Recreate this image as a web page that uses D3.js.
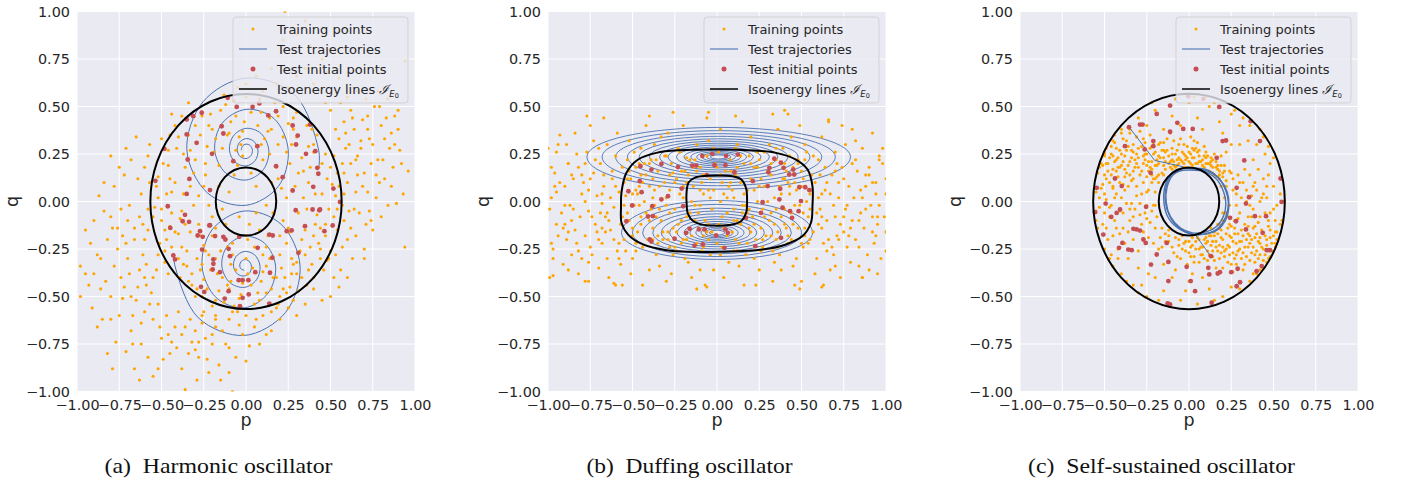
<!DOCTYPE html>
<html><head><meta charset="utf-8">
<script src="https://cdn.jsdelivr.net/npm/d3@7"></script>
<style>body{margin:0;background:#fff}</style>
</head><body><svg id="c" width="1403" height="481"></svg>
<script>
// ---------- tick values / labels / texts ----------
const pTicks = [-1, -0.75, -0.5, -0.25, 0, 0.25, 0.5, 0.75, 1];
const qTicks = [-1, -0.75, -0.5, -0.25, 0, 0.25, 0.5, 0.75, 1];
const tickLabels = ["−1.00","−0.75","−0.50","−0.25","0.00","0.25","0.50","0.75","1.00"];
const captions = ["(a)  Harmonic oscillator","(b)  Duffing oscillator","(c)  Self-sustained oscillator"];
const legendLabels = ["Training points","Test trajectories","Test initial points","Isoenergy lines "];

// ---------- (a) Harmonic: training points (hundredths of p,q) ----------
const trainHarmonic = [
[-45,12],[-38,-5],[-30,22],[-22,40],[-12,51],[3,47],[15,38],[28,44],[40,30],[48,12],[52,-8],[44,-25],[33,-40],[20,-50],[5,-54],[-10,-46],[-25,-41],[-37,-33],[-47,-20],[-52,2],
[-41,28],[-33,8],[-27,-18],[-18,-30],[-8,-22],[2,-12],[10,-28],[24,-22],[31,-6],[37,10],[26,20],[14,25],[-3,30],[-16,19],[-28,3],[-20,-8],[-6,-36],[9,-42],[21,-35],[35,-15],
[-50,-10],[-43,-28],[-32,-44],[-18,-52],[-3,-49],[12,-48],[26,-45],[39,-33],[47,-18],[53,3],[50,18],[42,35],[30,47],[17,52],[0,55],[-15,48],[-30,40],[-40,34],[-49,20],[-54,-3],
[-36,-12],[-24,-26],[-14,-40],[0,-30],[13,-18],[27,-30],[42,-7],[33,23],[22,34],[7,40],[-9,42],[-23,29],[-36,18],[-44,5],[-29,-30],[-12,-12],[16,-6],[29,8],[19,12],[-5,19],
[-48,-32],[-39,-40],[-26,-50],[-7,-55],[8,-52],[30,-38],[44,-30],[51,-13],[55,8],[47,25],[36,40],[22,50],[8,54],[-7,53],[-21,46],[-34,35],[-46,27],[-52,13],[-55,-8],[-51,-22],
[-31,-2],[-40,-17],[-21,-36],[-2,-43],[18,-40],[35,-28],[40,-18],[45,4],[38,18],[30,34],[14,44],[-2,37],[-18,33],[-33,27],[-38,-24],[-15,-26],[5,-24],[22,-10],[12,-34],[-28,-12],
[-44,-6],[-35,-34],[-16,-47],[1,-38],[24,-48],[36,-44],[46,-36],[49,-4],[43,18],[27,30],[11,33],[-11,35],[-26,45],[-42,40],[-48,-15],[-25,-23],[-9,-33],[15,-46],[33,-20],[41,-12],
[-53,8],[-46,-38],[-29,-46],[-13,-53],[19,-54],[31,-47],[50,-26],[54,-15],[52,24],[39,38],[25,41],[4,50],[-13,56],[-38,45],[-45,35],[-52,-28],[-42,10],[-24,14],[20,-28],[-32,-38],
[-20,-18],[-11,-44],[7,-48],[27,-38],[38,-24],[44,-14],[34,2],[40,26],[19,30],[-6,45],[-20,38],[-31,15],[-37,4],[-45,-13],[-27,-36],[-4,-51],[10,-37],[25,-14],[30,-32],[-40,-30],
[-10,5],[6,8],[-4,-8],[12,-2],[-14,-4],[3,15],[8,-15],[-7,14],[15,10],[-16,8],[0,-18],[10,22],[-22,-2],[20,-18],[-2,24],[24,2],[-12,-20],[18,18],[-24,20],[6,-6],
[-47,4],[-42,-16],[-35,-26],[-26,-33],[-17,-38],[-8,-28],[4,-35],[14,-30],[23,-40],[32,-26],[43,-22],[49,-30],[54,-4],[51,9],[45,20],[37,29],[28,38],[19,45],[9,47],[-1,42],[-10,36],[-19,26],[-27,35],[-37,25],[-46,19],[-50,-4],[-44,-24],[-34,-42],[-23,-46],[-9,-42],[3,-44],[16,-40],[28,-33],[37,-36],[47,-12],[41,4],[34,16],[24,26],[13,37],[-4,34],[-14,28],[-25,8],[-33,-16],[-22,-28],[-11,-24],[1,-20],[12,-24],[26,-16],[36,-4],[31,15],[21,7],[9,30],[-6,27],[-18,-14],[-39,-9],[-48,-26],[-30,-50],[-20,-55],[22,-46],[40,-40],
[-60,-40],[-65,-52],[-70,-30],[-72,-45],[-75,-60],[-68,-68],[-62,-75],[-55,-62],[-58,-82],[-50,-72],[-45,-80],[-42,-66],[-38,-88],[-36,-99],[-32,-74],[-28,-82],[-29,-94],[-23,-83],[-20,-70],[-15,-94],[-10,-90],[-10,-77],[-8,-100],[-80,-50],[-82,-80],[-79,-88],[-77,-74],[-85,-62],[-88,-66],[-93,-44],[-98,-34],[-98,-50],[-90,-38],[-86,-30],[-82,-20],[-76,-25],[-66,-20],[-61,-28],[-58,-15],[-63,-8],[-70,-10],[-74,-4],[-80,-8],[-66,-88],[-63,-94],[-55,-92],[-49,-83],[-52,-88],[-41,-77],[-47,-60],[-40,-58],[-33,-62],[-26,-60],[-18,-62],[-60,-58],[-69,-38],[-64,-45],[-56,-48],[-73,-51],[-83,-42],[-71,-79],[-46,-70],[-34,-80],[-24,-72],[-30,-68],[-38,-70],[-52,-54],[-59,-33],[-67,-60],[-78,-34],
[-59,-44],[-63,-36],[-68,-50],[-74,-40],[-57,-54],[-62,-64],[-51,-66],[-44,-74],[-36,-66],[-28,-74],[-71,-22],[-79,-14],[-86,-46],[-91,-56],[-80,-62],[-67,-75],
[-87,3],[-84,10],[-90,-10],[-95,-15],[-78,8],[-72,14],[-68,22],[-65,34],[-60,18],[-57,10],[-62,4],[-69,-2],[-75,18],[-80,24],[-71,28],[-58,24],[-64,12],[-76,-14],[-84,-5],[-92,-22],[-58,-4],[-61,-12],[-88,-28],[-73,-18],[-66,-14],[-57,30],[-53,-36],[-55,-40],[-60,-20],[-95,-38],
[-50,33],[-44,46],[-34,52],
[60,10],[62,20],[65,5],[68,28],[70,15],[72,38],[75,30],[78,22],[80,40],[82,12],[85,28],[88,45],[90,38],[92,20],[96,16],[89,-1],[75,-15],[67,-6],[58,-10],[60,-20],[63,-30],[56,-36],[48,-31],[52,-40],[70,-25],[72,5],[76,50],[79,50],[71,54],[62,48],[58,42],[55,33],[53,38],[64,38],[69,43],[82,33],[86,8],[90,48],[84,54],[78,58],[66,58],[60,55],[56,52],[50,48],[47,52],[59,28],[66,14],[73,-5],[80,-8],[84,-2],[62,-14],[57,-2],[64,-4],[71,-12],[77,2],[58,4],[61,30],[74,20],[81,22],[87,18],[93,4],[60,-40],[55,-45],[50,-50],[45,-52],[53,-28],[68,32],[72,45],[65,22],[79,10],[57,20],[54,15],[88,30],[94,-24],[70,-30],
[58,15],[61,-5],[66,24],[69,8],[73,33],[77,14],[83,44],[86,36],[91,27],[59,36],[63,44],[57,-24],[65,-18],[74,-10],
[10,58],[18,62],[25,60],[30,66],[35,70],[40,62],[45,75],[50,80],[22,85],[30,88],[23,100],[35,95],[44,58],[15,70],[38,82],[-5,60],[0,62],[6,66],[94,74],[55,65],[48,68],
[-25,-58],[-18,-60],[-10,-62],[-5,-58],[0,-60],[5,-66],[10,-60],[15,-58],[20,-62],[25,-56],[30,-60],[-2,-70],[-14,-68],[8,-75],[-6,-82],[2,-76],[-20,-75],[15,-68],[-12,-75],[-4,-65],[28,-52],[35,-54],[40,-46],[-16,-86],[-22,-90],
[-8,-58],[6,-62],[18,-56],[-18,-66],[0,-84],[-26,-64],[12,-70],[-30,-78]
];
const initHarmonic = [
[-0.055,0.498],[0.039,0.498],[0.079,0.516],[0.132,0.453],[0.178,0.475],[0.276,0.40],[0.306,0.347],[0.379,0.405],[0.296,0.30],[0.355,0.251],[0.41,0.265],[0.422,0.177],[0.428,0.146],[0.178,0.186],[0.217,0.128],[0.067,0.291],[-0.075,0.212],[-0.144,0.396],[-0.201,0.251],[-0.292,0.309],[-0.351,0.353],[-0.351,0.432],[-0.312,0.449],[-0.262,0.467],[-0.345,0.221],[-0.483,0.277],[-0.536,0.109],[-0.335,0.119],[-0.351,0.04],[-0.213,0.06],[-0.463,-0.025],[-0.361,-0.07],[-0.375,-0.104],[-0.337,-0.107],[-0.448,-0.139],[-0.43,-0.284],[-0.272,-0.156],[-0.217,-0.126],[-0.286,-0.179],[-0.256,-0.186],[-0.183,-0.182],[-0.134,-0.186],[-0.122,-0.2],[-0.103,-0.249],[-0.095,-0.288],[-0.26,-0.253],[-0.193,-0.305],[-0.197,-0.358],[-0.154,-0.372],[-0.043,-0.414],[-0.02,-0.414],[0.014,-0.414],[0.016,-0.489],[-0.02,-0.507],[-0.103,-0.472],[-0.126,-0.511],[-0.266,-0.449],[0.138,-0.537],[0.055,-0.372],[0.138,-0.174],[0.158,-0.179],[0.241,-0.156],[0.31,-0.27],[0.294,-0.046],[0.276,0.058],[0.398,0.077],[0.394,-0.042],[0.434,-0.046],[0.349,-0.13],[0.464,-0.156],[0.513,-0.126],[0.517,0.068],[0.556,-0.002],
[-0.108,0.546],[-0.134,0.358],[-0.213,-0.125],[-0.247,-0.476],[0.069,-0.244],[0.156,-0.296],[0.142,-0.375],[-0.04,-0.186],[0.27,-0.152],[-0.193,-0.328],[0.438,-0.042],[-0.42,-0.305],[-0.036,-0.551]
];
const isoHarmonicRadii = [0.566, 0.179];
// spirals: centre and (angle in degrees, radius) samples
const harmUpperCenter = [0, 0.27];
const harmUpperSpiral = [[-11,.44],[0,.43],[45,.41],[90,.38],[135,.36],[180,.35],[225,.32],[270,.29],[315,.27],[360,.25],[405,.235],[450,.215],[495,.2],[540,.185],[585,.17],[630,.157],[675,.145],[720,.135],[765,.125],[810,.115],[855,.106],[900,.098],[945,.09],[990,.083],[1035,.077],[1080,.071],[1125,.066],[1170,.061],[1215,.056],[1260,.052],[1305,.048],[1350,.044],[1395,.041],[1440,.038],[1485,.035],[1530,.032],[1575,.03],[1620,.028]];
const harmLowerCenter = [-0.01, -0.34];
const harmLowerSpiral = [[172,.42],[180,.41],[225,.385],[270,.365],[315,.345],[360,.33],[405,.31],[450,.29],[495,.27],[540,.25],[585,.235],[630,.22],[675,.2],[720,.185],[765,.17],[810,.157],[855,.145],[900,.133],[945,.122],[990,.112],[1035,.102],[1080,.093],[1125,.085],[1170,.077],[1215,.07],[1260,.064],[1305,.058],[1350,.052],[1395,.047],[1440,.042],[1485,.038],[1530,.034],[1575,.03],[1620,.027],[1665,.024],[1710,.021]];

// ---------- (b) Duffing ----------
const trainDuffing = [
[-99,-40],[-97,-25],[-95,-12],[-98,2],[-96,15],[-100,28],[-93,35],[-91,-33],[-89,-20],[-92,-6],[-90,8],[-88,20],[-86,-28],[-84,-15],[-87,-2],[-85,12],[-83,25],[-82,-38],[-81,-8],[-80,4],[-94,-18],[-102,-10],[-101,22],[-97,-30],[-89,30],[-84,36],[-82,18],[-86,-10],[-93,10],[-99,-4],[-91,-14],[-95,26],[-88,-36],[-83,-22],[-80,-30],
[-79,10],[-78,-18],[-77,26],[-76,-5],[-75,40],[-74,-28],[-73,15],[-72,-12],[-71,3],[-70,-35],[-69,20],[-68,-22],[-67,8],[-66,-8],[-65,30],[-64,-40],[-63,-15],[-62,12],[-61,-3],[-60,24],[-59,-26],[-58,5],[-57,-12],[-56,18],[-78,-42],[-75,-24],[-73,32],[-71,-16],[-69,-6],[-67,14],[-65,-30],[-63,2],[-61,-20],[-59,36],[-57,-33],[-76,6],[-72,22],[-68,-1],[-64,-10],[-60,-44],
[-55,-20],[-54,3],[-53,22],[-52,-10],[-51,12],[-50,-30],[-49,-2],[-48,18],[-47,-16],[-46,8],[-45,28],[-44,-24],[-43,0],[-42,14],[-41,-8],[-40,-36],[-39,22],[-38,-14],[-37,6],[-36,-28],[-35,16],[-34,-4],[-33,34],[-32,-20],[-31,10],[-30,-42],[-55,10],[-53,-6],[-51,-38],[-49,26],[-47,4],[-45,-12],[-43,20],[-41,-20],[-39,-4],[-37,30],[-35,-22],[-33,-10],[-31,24],[-50,-18],[-46,-2],[-42,40],[-38,12],[-34,-34],[-30,2],[-52,32],[-44,-44],[-36,-8],[-48,-26],[-40,8],
[-29,-16],[-28,6],[-27,20],[-26,-28],[-25,-4],[-24,12],[-23,-12],[-22,26],[-21,-22],[-20,2],[-19,16],[-18,-8],[-17,-32],[-16,22],[-15,-18],[-14,8],[-13,-2],[-12,30],[-11,-14],[-10,18],[-9,-26],[-8,4],[-7,-10],[-6,24],[-5,-20],[-4,12],[-3,-4],[-2,-36],[-1,20],[-29,36],[-27,-38],[-25,-24],[-23,28],[-21,-10],[-19,-30],[-17,14],[-15,-40],[-13,22],[-11,-6],[-9,10],[-7,-44],[-5,32],[-3,-16],[-28,-6],[-24,-16],[-20,40],[-16,-14],[-12,-22],[-8,-18],[-4,-28],[-26,15],[-18,23],[-10,-36],[-6,44],[-2,6],
[1,-12],[2,14],[3,-24],[4,4],[5,24],[6,-6],[7,-32],[8,16],[9,-16],[10,2],[11,28],[12,-10],[13,-22],[14,10],[15,-2],[16,20],[17,-28],[18,6],[19,-14],[20,34],[21,-8],[22,18],[23,-20],[24,0],[25,-36],[26,12],[27,-4],[28,26],[29,-18],[2,38],[4,-40],[6,-18],[8,22],[10,-26],[12,30],[14,-12],[16,-44],[18,-6],[20,12],[22,-30],[24,18],[26,-14],[28,8],[3,-8],[7,8],[11,-20],[15,42],[19,24],[23,-44],[27,-24],[1,26],[9,6],[17,-2],[25,22],[13,-34],
[31,-10],[32,14],[33,-26],[34,2],[35,22],[36,-16],[37,8],[38,-36],[39,28],[40,-4],[41,16],[42,-22],[43,4],[44,34],[45,-12],[46,10],[47,-30],[48,20],[49,-2],[50,-42],[51,12],[52,-18],[53,26],[54,-8],[55,4],[31,30],[33,-42],[35,-4],[37,-28],[39,12],[41,-14],[43,24],[45,-34],[47,6],[49,40],[51,-24],[53,0],[55,-20],[32,-18],[36,38],[40,20],[44,-20],[48,-14],[52,30],[56,14],[34,-32],[38,-8],[42,46],[46,-44],[50,8],
[57,-16],[58,10],[59,-30],[60,22],[61,-4],[62,34],[63,-22],[64,6],[65,-10],[66,42],[67,-36],[68,14],[69,-2],[70,26],[71,-18],[72,2],[73,-40],[74,18],[75,-8],[76,30],[77,-24],[78,8],[79,-14],[80,38],[57,24],[59,-6],[61,14],[63,-44],[65,-26],[67,4],[69,-28],[71,20],[73,-12],[75,12],[77,-2],[79,-32],[58,-38],[62,-14],[66,-20],[70,-8],
[81,2],[82,-20],[83,16],[84,-34],[85,-6],[86,28],[87,-14],[88,8],[89,-28],[90,18],[91,-2],[92,36],[93,-22],[94,4],[95,-12],[96,22],[97,-30],[98,28],[99,-8],[100,12],[101,-20],[102,26],[103,0],[82,32],[84,-10],[86,-40],[88,-4],[90,-36],[92,10],[94,-18],[96,-2],[98,20],[100,-26],[102,-6],[104,-14],
[-77,45],[-67,44],[-40,45],[-26,47],[-5,47],[11,45],[33,46],[40,48],[66,43],[74,40],[-12,-46],[-6,-45],[49,-46],[62,-45],[-56,-44],[-61,-43],[-76,-42],[-97,-39],[95,-38],[86,-40],
[-95,5],[-85,-4],[-75,12],[-65,-6],[-55,-2],[-45,14],[-35,-18],[-25,10],[-15,0],[-5,-12],[5,16],[15,-6],[25,8],[35,-20],[45,18],[55,-4],[65,10],[75,-16],[85,6],[95,-8],[-90,-12],[-80,14],[-70,-20],[-60,8],[-50,-14],[-40,20],[-30,-2],[-20,-20],[-10,6],[0,-22],[10,-4],[20,20],[30,0],[40,-12],[50,-22],[60,2],[70,16],[80,-10],[90,14],[100,4],[-98,18],[-78,0],[-58,-22],[-38,2],[-18,10],[2,0],[22,-12],[42,10],[62,-8],[82,22],[-88,20],[-68,-14],[-48,6],[-28,-24],[-8,14],[12,18],[32,-6],[52,22],[72,-20],[92,-16],
[-56,-8],[-52,16],[-48,-22],[-44,10],[-40,-10],[-36,22],[-32,-16],[-28,14],[-24,-26],[-20,8],[-16,-6],[-12,16],[-8,-24],[-4,2],[0,18],[4,-14],[8,10],[12,-26],[16,4],[20,-16],[24,26],[28,-8],[32,20],[36,-24],[40,12],[44,-6],[48,22],[52,-14],[56,6],[-54,-26],[-50,4],[-46,20],[-42,-6],[-38,-20],[-34,8],[-30,24],[-26,-14],[-22,4],[-18,-20],[-14,18],[-10,-2],[-6,-16],[-2,28],[2,-28],[6,2],[10,-10],[14,24],[18,-22],[22,6],[26,-26],[30,16],[34,-12],[38,4],[42,-18],[46,-2],[50,16],[54,-22],[-53,12],[-37,-2],[-21,16],[-5,6],[11,14],[27,-20],[43,8],[-45,-8],[-29,-20],[-13,-10],[3,10],[19,-4],[35,28],[51,-6],
[-98,-22],[-94,30],[-90,-2],[-86,14],[-82,-26],[-78,20],[-74,-8],[-70,28],[-66,-16],[-62,16],[-58,-30],[-96,8],[-88,-16],[-76,-32],[-68,4],[60,-12],[64,18],[68,-24],[72,10],[76,-4],[80,20],[84,-24],[88,14],[92,-8],[96,24],[100,-16],[62,4],[70,-34],[78,-18],[86,2],[94,10],[102,16]
];
const initDuffing = [
[-0.087,0.239],[-0.028,0.251],[0.054,0.239],[0.123,0.247],[-0.147,0.189],[-0.123,0.189],[-0.015,0.191],[0.05,0.191],[-0.231,0.181],[-0.329,0.198],[-0.388,0.168],[-0.453,0.186],[0.103,0.154],[-0.06,0.139],[0.212,0.107],[0.31,0.177],[0.304,0.154],[0.378,0.204],[0.339,0.225],[0.394,0.177],[0.428,0.142],[0.451,0.168],[0.457,0.142],[0.487,0.075],[0.522,0.075],[0.546,0.06],[0.374,0.067],[0.369,0.011],[0.3,0.081],[0.27,-0.004],[0.26,-0.06],[0.388,-0.033],[0.432,-0.051],[0.444,-0.086],[0.483,-0.051],[0.497,0.002],[0.379,-0.191],[0.227,-0.235],[0.172,-0.086],[0.05,-0.147],[0.064,-0.165],[-0.005,-0.179],[-0.074,-0.147],[-0.107,-0.147],[-0.162,-0.144],[-0.182,-0.165],[-0.084,-0.226],[-0.133,-0.232],[0.044,-0.244],[-0.251,-0.196],[-0.398,-0.2],[-0.388,-0.211],[-0.408,-0.079],[-0.379,-0.077],[-0.536,-0.104],[-0.502,-0.021],[-0.524,0.054],[-0.446,0.049],[-0.457,0.107],[-0.383,-0.025],[-0.329,0.011],[-0.29,0.028],[-0.2,-0.025],[-0.209,0.068]
];
const isoDuffingOuter = [[-0.565,0.05],[-0.536,0.151],[-0.467,0.221],[-0.359,0.256],[-0.221,0.27],[0.015,0.274],[0.22,0.268],[0.349,0.256],[0.467,0.221],[0.536,0.168],[0.565,0.08],[0.565,-0.02],[0.556,-0.112],[0.506,-0.182],[0.408,-0.226],[0.27,-0.253],[0.015,-0.265],[-0.162,-0.265],[-0.3,-0.256],[-0.438,-0.226],[-0.526,-0.174],[-0.565,-0.112],[-0.568,-0.03]];
const isoDuffingInner = [[-0.18,0.05],[-0.168,0.1],[-0.13,0.126],[-0.06,0.135],[0.015,0.137],[0.09,0.133],[0.145,0.115],[0.172,0.07],[0.178,0.0],[0.172,-0.06],[0.14,-0.105],[0.07,-0.124],[-0.005,-0.127],[-0.08,-0.123],[-0.14,-0.104],[-0.172,-0.065],[-0.18,-0.007]];
// loops: [half-width in p, height above centre, depth below centre]
const duffUpperCenter = [0.01, 0.235];
const duffUpperLoops = [[0.78,0.155,0.17],[0.69,0.138,0.152],[0.61,0.122,0.136],[0.54,0.108,0.12],[0.47,0.095,0.106],[0.41,0.083,0.093],[0.35,0.072,0.08],[0.30,0.062,0.069],[0.25,0.052,0.058],[0.205,0.043,0.048],[0.165,0.035,0.039],[0.13,0.028,0.031],[0.10,0.021,0.024],[0.072,0.015,0.017],[0.05,0.01,0.011]];
const duffLowerCenter = [0, -0.165];
const duffLowerLoops = [[0.565,0.17,0.14],[0.5,0.15,0.125],[0.44,0.13,0.11],[0.38,0.115,0.097],[0.33,0.1,0.085],[0.28,0.085,0.073],[0.235,0.072,0.062],[0.195,0.06,0.052],[0.16,0.049,0.043],[0.125,0.039,0.034],[0.095,0.03,0.026],[0.07,0.022,0.019],[0.045,0.014,0.012]];

// ---------- (c) Self-sustained ----------
const trainSelf = [
[-53,18],[-50,24],[-50,14],[-49,28],[-48,20],[-47,10],[-46,25],[-45,17],[-44,31],[-43,22],[-42,13],[-41,27],[-40,19],[-39,33],[-38,24],[-37,15],[-36,29],[-35,21],[-34,11],[-33,26],[-32,18],[-31,34],[-30,23],[-29,14],[-28,29],[-27,20],[-26,31],[-25,25],[-24,16],[-23,28],[-22,21],[-21,12],[-20,26],[-19,19],[-18,30],[-17,23],[-16,15],[-15,27],[-14,21],[-13,33],[-12,24],[-11,18],[-10,28],[-9,21],[-8,25],[-7,19],[-6,30],[-5,22],[-4,26],[-3,20],[-2,24],[-1,29],[0,21],[1,25],[2,19],[3,23],[4,28],[5,20],[6,24],[7,17],[8,22],[9,18],[10,26],[11,20],[12,16],[13,23],[14,18],[15,14],[16,21],[17,17],[18,12],[19,19],[20,15],[22,11],[24,16],
[-50,26],[-51,9],[-49,20],[-45,32],[-45,7],[-43,28],[-41,18],[-39,9],[-37,27],[-35,36],[-33,16],[-31,25],[-29,37],[-27,10],[-25,19],[-23,35],[-21,25],[-19,13],[-17,31],[-15,19],[-13,27],[-11,36],[-9,19],[-7,27],[-5,33],[-3,18],[-1,23],[1,34],[3,27],[5,31],[7,21],[9,29],[11,24],[13,19],[15,25],[17,13],[19,24],[21,19],[-46,14],[-42,23],[-38,17],[-34,23],[-30,18],[-26,22],[-22,17],[-18,24],[-14,26],[-10,22],[-6,20],[-2,22],[2,28],[6,27],[10,20],[14,22],[18,16],[-36,8],[-28,4],[-24,6],[-44,2],[-50,4],
[-52,20],[-48,16],[-46,29],[-44,21],[-42,18],[-40,25],[-38,13],[-36,19],[-34,27],[-32,22],[-30,28],[-28,16],[-26,25],[-24,21],[-22,29],[-20,19],[-18,20],[-16,27],[-14,17],[-12,20],[-10,25],[-8,18],[-6,23],[-4,21],[-2,18],[0,26],[2,23],[4,20],[6,21],[8,19],[10,23],[12,20],[14,15],[16,18],[18,14],[20,13],[-51,19],[-47,23],[-43,16],[-39,21],[-35,14],[-31,20],[-27,24],[-23,18],[-19,22],[-15,23],[-11,21],[-7,22],[-3,25],[1,20],[5,26],[9,24],[13,21],[17,19],[21,16],[-37,32],[-33,30],[-27,33],[-21,31],[-15,31],[-9,32],[-3,30],[3,32],[-41,10],[-33,12],[-25,13],[-31,8],[-45,24],[-49,12],
[-8,-19],[-6,-23],[-4,-18],[-2,-26],[0,-21],[2,-19],[4,-25],[6,-20],[8,-28],[10,-22],[12,-18],[14,-26],[16,-21],[18,-30],[20,-24],[22,-17],[24,-28],[26,-21],[28,-33],[30,-25],[32,-18],[34,-29],[36,-22],[38,-14],[40,-26],[42,-19],[44,-31],[46,-23],[48,-15],[49,-26],[52,-20],[54,-12],
[-9,-27],[-5,-30],[-1,-33],[3,-29],[7,-24],[11,-31],[15,-16],[19,-19],[23,-23],[27,-14],[31,-30],[35,-17],[39,-32],[43,-24],[47,-10],[51,-16],
[1,-24],[5,-19],[9,-20],[13,-23],[17,-26],[21,-29],[25,-19],[29,-17],[33,-24],[37,-27],[41,-21],[45,-18],[49,-22],[51,-24],
[13,-14],[17,-12],[21,-10],[25,-13],[29,-9],[33,-12],[37,-8],[41,-11],[45,-6],
[20,-35],[26,-37],[32,-36],[38,-38],[42,-36],[46,-32],
[-12,-21],[-14,-17],[-16,-24],[-12,-15],[6,-32],[16,-35],[28,-28],[36,-31],[42,-28],[48,-29],[11,-26],[23,-32],[35,-24],[-3,-22],[19,-15],[31,-21],[39,-19],[47,-26],[24,-24],[14,-29],
[-6,-20],[-2,-21],[2,-23],[6,-25],[10,-19],[14,-21],[18,-23],[22,-25],[26,-27],[30,-21],[34,-20],[38,-24],[42,-22],[46,-20],[50,-18],[-4,-25],[0,-27],[4,-21],[8,-24],[12,-28],[16,-24],[20,-20],[24,-18],[28,-22],[32,-27],[36,-18],[40,-17],[44,-25],[48,-19],[52,-16],[3,-32],[9,-30],[15,-31],[21,-26],[27,-30],[33,-33],[39,-28],[45,-28],[13,-18],[17,-17],[23,-14],[27,-17],[31,-15],[35,-13],[39,-13],[43,-15],[47,-13],[-7,-29],[1,-29],[7,-28],[19,-27],[25,-33],[29,-26],[37,-20],[41,-30],[11,-21],[-10,-24],[-14,-21],[-17,-19],
[-55,5],[-53,-3],[-51,-12],[-49,1],[-47,-8],[-45,-18],[-43,4],[-41,-5],[-39,-14],[-37,-1],[-35,-10],[-33,-20],[-31,3],[-29,-7],[-27,-16],[-25,-2],[-23,-11],[-21,-22],[-52,7],[-48,-20],[-44,-10],[-40,2],[-36,-16],[-32,-4],[-28,-12],[-24,-19],[-22,-5],[-46,-2],[-42,-25],[-38,6],[-30,-26],[-26,-6],[-20,-14],[-50,-6],[-34,-1],[-54,-14],[-18,-25],[-20,-2],[-25,5],[-45,8],
[-53,2],[-49,-14],[-43,-14],[-39,-6],[-33,-8],[-29,-1],[-25,-9],[-47,-3],[-41,-17],[-35,-4],
[22,8],[24,-2],[26,12],[28,4],[30,-6],[32,10],[34,0],[36,14],[38,-4],[40,6],[42,-8],[44,12],[46,2],[48,-6],[50,8],[52,-2],[54,4],[23,-8],[27,-10],[31,2],[35,-8],[39,10],[43,2],[47,14],[51,-10],[25,15],[33,17],[41,17],[29,14],[37,3],
[26,6],[30,10],[34,6],[38,8],[42,0],[46,8],[50,-4],[28,-2],[36,-2],[44,4],
[-30,44],[-20,48],[-10,45],[0,52],[5,44],[12,50],[18,42],[25,46],[30,40],[-15,38],[-5,40],[8,38],[20,36],[-25,40],[-35,38],[-40,36],[3,55],[15,52],[-8,54],[27,48],[35,32],[40,30],[45,25],[38,22],[30,30],[48,20],[25,30],[22,26],[-22,52],[10,55],[47,29],[44,34],[42,38],[50,23],[32,44],[36,40],
[-40,-38],[-33,-44],[-25,-50],[-15,-47],[-5,-52],[5,-54],[12,-46],[20,-50],[-20,-40],[-10,-40],[0,-42],[8,-40],[-30,-35],[-28,-44],[-12,-55],[-2,-47],[15,-52],[-18,-52],[25,-45],[30,-46],[-36,-30],[-42,-30],[-46,-28],[-45,-34],[-37,-42],[-30,-48],[-24,-38],[-8,-36],[2,-38],[-15,-33],
[-55,-10],[-54,15],[-50,25],[-44,35],[-40,38],[-50,-25],[-55,-5],[-47,-30],[-38,-22],[40,-38],[36,-42],[44,-35],[47,-30],[51,-22],[55,-10],[56,0],
[-22,10],[-20,5],[-19,-8],[-21,-2],[-18,14],[-16,-14],[-12,-18],[20,-6],[19,8],[21,2],[18,-12],[20,-10],[22,-6],[24,-12],[18,-14],[15,-18],[10,-17],[-18,10],[-15,14],[-10,17],[-20,12],[-22,14]
];
const initSelf = [
[-0.112,0.505],[-0.004,0.554],[0.085,0.54],[0.179,0.498],[-0.191,0.461],[-0.29,0.405],[-0.275,0.405],[-0.355,0.391],[-0.069,0.414],[-0.034,0.382],[0.022,0.382],[-0.112,0.367],[-0.211,0.318],[-0.211,0.291],[-0.379,0.291],[-0.262,0.274],[0.219,0.321],[0.199,0.318],[0.164,0.23],[0.327,0.216],[0.365,0.423],[0.42,0.318],[0.542,0.121],[0.548,-0.002],[0.355,0.023],[0.337,-0.011],[0.243,-0.086],[0.278,-0.104],[0.39,-0.077],[0.337,-0.147],[0.436,-0.165],[0.456,-0.077],[0.479,-0.256],[0.46,-0.256],[0.43,-0.34],[0.40,-0.367],[0.288,-0.354],[0.25,-0.372],[0.183,-0.372],[0.17,-0.379],[0.114,-0.349],[0.12,-0.384],[0.302,-0.425],[0.282,-0.446],[0.13,-0.288],[-0.014,-0.344],[0.01,-0.419],[0.036,-0.472],[0.134,-0.533],[-0.112,-0.542],[-0.126,-0.536],[-0.122,-0.419],[-0.225,-0.332],[-0.191,-0.279],[-0.122,-0.318],[-0.256,-0.218],[-0.27,-0.2],[-0.339,-0.256],[-0.359,-0.253],[-0.414,-0.244],[-0.394,-0.218],[-0.31,-0.147],[-0.29,-0.153],[-0.329,-0.144],[-0.507,-0.174],[-0.428,-0.06],[-0.408,-0.042],[-0.46,-0.081],[-0.493,-0.011],[-0.556,-0.056],[-0.546,0.072],[-0.398,0.081],[-0.438,0.121],[-0.254,-0.028],[-0.227,0.151],[0.282,0.072],[-0.132,-0.218]
];
const isoSelfRadii = [0.567, 0.179];
const selfCycles = [
[[-0.004,0.177],[0.105,0.168],[0.174,0.125],[0.219,0.054],[0.233,-0.007],[0.219,-0.077],[0.174,-0.139],[0.105,-0.168],[0.026,-0.174],[-0.053,-0.147],[-0.122,-0.086],[-0.148,-0.007],[-0.142,0.081],[-0.102,0.151],[-0.053,0.174]],
[[0.0,0.165],[0.1,0.155],[0.165,0.115],[0.205,0.05],[0.218,-0.01],[0.205,-0.075],[0.165,-0.13],[0.1,-0.16],[0.02,-0.165],[-0.05,-0.14],[-0.11,-0.08],[-0.135,-0.005],[-0.13,0.075],[-0.095,0.14],[-0.05,0.162]],
[[0.01,0.172],[0.11,0.16],[0.18,0.118],[0.226,0.05],[0.236,-0.02],[0.22,-0.09],[0.17,-0.148],[0.095,-0.172],[0.015,-0.172],[-0.06,-0.138],[-0.115,-0.075],[-0.14,0.0],[-0.132,0.09],[-0.09,0.155],[-0.04,0.172]]
];
const selfTransients = [
[[-0.349,0.385],[-0.203,0.216],[-0.034,0.183]],
[[0.13,-0.29],[0.04,-0.178]]
];

// ---------- layout / style ----------
const W = 338, H = 380, TOP = 11.5, LEFTS = [77, 548, 1020];
const COL = {bg:"#EAEAF2", train:"#FFA500", init:"#C44E52", traj:"#4C72B0", iso:"#000000", text:"#262626"};
const CAPW = [228, 206, 267];
const svg = d3.select("#c");
const defs = svg.append("defs");

function makePanel(i) {
  const g = svg.append("g").attr("transform", `translate(${LEFTS[i]},${TOP})`);
  const x = d3.scaleLinear().domain([-1, 1]).range([0, W]);
  const y = d3.scaleLinear().domain([-1, 1]).range([H, 0]);
  g.append("rect").attr("width", W).attr("height", H).attr("fill", COL.bg);
  g.append("g").selectAll("line").data(pTicks).join("line")
    .attr("x1", d => x(d)).attr("x2", d => x(d)).attr("y1", 0).attr("y2", H)
    .attr("stroke", "#fff").attr("stroke-width", 1);
  g.append("g").selectAll("line").data(qTicks).join("line")
    .attr("y1", d => y(d)).attr("y2", d => y(d)).attr("x1", 0).attr("x2", W)
    .attr("stroke", "#fff").attr("stroke-width", 1);
  const ax = g.append("g").attr("transform", `translate(0,${H})`)
    .call(d3.axisBottom(x).tickValues(pTicks).tickFormat((d, k) => tickLabels[k]).tickSize(0).tickPadding(7.8));
  const ay = g.append("g")
    .call(d3.axisLeft(y).tickValues(qTicks).tickFormat((d, k) => tickLabels[k]).tickSize(0).tickPadding(7));
  [ax, ay].forEach(a => {
    a.select(".domain").remove();
    a.attr("font-size", 14.4).attr("font-family", "DejaVu Sans");
    a.selectAll("text").attr("fill", COL.text);
  });
  g.append("text").attr("x", W / 2).attr("y", H + 34.5).attr("text-anchor", "middle")
    .attr("font-family", "DejaVu Sans").attr("font-size", 17.5).attr("fill", COL.text).text("p");
  g.append("text").attr("transform", `translate(-59,${H / 2}) rotate(-90)`).attr("text-anchor", "middle")
    .attr("font-family", "DejaVu Sans").attr("font-size", 17.5).attr("fill", COL.text).text("q");
  g.append("text").attr("x", 141.5).attr("y", 461.5).attr("text-anchor", "middle")
    .attr("font-family", "Liberation Serif, serif").attr("font-size", 21).attr("fill", "#111")
    .attr("textLength", CAPW[i]).attr("lengthAdjust", "spacingAndGlyphs")
    .attr("xml:space", "preserve").style("white-space", "pre").text(captions[i]);
  defs.append("clipPath").attr("id", "clip" + i).append("rect").attr("width", W).attr("height", H);
  const c = g.append("g").attr("clip-path", `url(#clip${i})`);
  const line = d3.line().x(d => x(d[0])).y(d => y(d[1]));
  return {g, c, x, y, line};
}

function drawTrain(P, pts) {
  P.c.append("g").selectAll("circle").data(pts).join("circle")
    .attr("cx", d => P.x(d[0] / 100)).attr("cy", d => P.y(d[1] / 100)).attr("r", 1.55).attr("fill", COL.train);
}
function drawInit(P, pts) {
  P.c.append("g").selectAll("circle").data(pts).join("circle")
    .attr("cx", d => P.x(d[0])).attr("cy", d => P.y(d[1])).attr("r", 2.4).attr("fill", COL.init);
}
function drawIsoCircles(P, radii) {
  P.c.append("g").selectAll("ellipse").data(radii).join("ellipse")
    .attr("cx", P.x(0)).attr("cy", P.y(0))
    .attr("rx", r => P.x(r) - P.x(0)).attr("ry", r => P.y(0) - P.y(r))
    .attr("fill", "none").attr("stroke", COL.iso).attr("stroke-width", 2);
}
function drawSpiral(P, center, polar) {
  const pts = polar.map(([a, r]) => [center[0] + r * Math.cos(a * Math.PI / 180), center[1] + r * Math.sin(a * Math.PI / 180)]);
  P.c.append("path").attr("d", P.line.curve(d3.curveCatmullRom)(pts))
    .attr("fill", "none").attr("stroke", COL.traj).attr("stroke-width", 1);
}
function drawLoops(P, center, loops) {
  P.c.append("g").selectAll("path").data(loops).join("path")
    .attr("d", ([rx, rt, rb]) => {
      const xl = P.x(center[0] - rx), xr = P.x(center[0] + rx), yc = P.y(center[1]);
      const RX = P.x(center[0] + rx) - P.x(center[0]);
      const RT = P.y(center[1]) - P.y(center[1] + rt), RB = P.y(center[1] - rb) - P.y(center[1]);
      return `M${xl},${yc}A${RX},${RT} 0 0 1 ${xr},${yc}A${RX},${RB} 0 0 1 ${xl},${yc}Z`;
    })
    .attr("fill", "none").attr("stroke", COL.traj).attr("stroke-width", 0.9);
}
function drawClosed(P, pts, color, w) {
  P.c.append("path").attr("d", P.line.curve(d3.curveCatmullRomClosed)(pts))
    .attr("fill", "none").attr("stroke", color).attr("stroke-width", w);
}
function drawPolyline(P, pts, color, w) {
  P.c.append("path").attr("d", P.line.curve(d3.curveLinear)(pts))
    .attr("fill", "none").attr("stroke", color).attr("stroke-width", w);
}
function drawLegend(P) {
  const L = P.g.append("g").attr("transform", `translate(${W - 7 - 175},5.5)`);
  L.append("rect").attr("width", 175).attr("height", 86).attr("rx", 3)
    .attr("fill", COL.bg).attr("fill-opacity", 0.8).attr("stroke", "#CCCCCC").attr("stroke-opacity", 0.8);
  legendLabels.forEach((lab, k) => {
    const cy = 12 + 20 * k;
    if (k === 0) L.append("circle").attr("cx", 20).attr("cy", cy).attr("r", 1.5).attr("fill", COL.train);
    if (k === 1) L.append("line").attr("x1", 6).attr("x2", 34).attr("y1", cy).attr("y2", cy).attr("stroke", COL.traj).attr("stroke-width", 1.1);
    if (k === 2) L.append("circle").attr("cx", 20).attr("cy", cy).attr("r", 2.5).attr("fill", COL.init);
    if (k === 3) L.append("line").attr("x1", 6).attr("x2", 34).attr("y1", cy).attr("y2", cy).attr("stroke", COL.iso).attr("stroke-width", 1.5);
    const t = L.append("text").attr("x", 44).attr("y", cy + 4.7)
      .attr("font-family", "DejaVu Sans").attr("font-size", 13).attr("fill", COL.text)
      .attr("xml:space", "preserve").style("white-space", "pre");
    t.append("tspan").text(lab);
    if (k === 3) {
      t.append("tspan").attr("font-family", "DejaVu Serif").attr("font-style", "italic").text("ℐ");
      t.append("tspan").attr("font-size", 8.5).attr("dy", 3).attr("font-style", "italic").text("E");
      t.append("tspan").attr("font-size", 6.5).attr("dy", 1.5).text("0");
    }
  });
}

// ---- panel (a)
const A = makePanel(0);
drawSpiral(A, harmUpperCenter, harmUpperSpiral);
drawSpiral(A, harmLowerCenter, harmLowerSpiral);
drawTrain(A, trainHarmonic);
drawInit(A, initHarmonic);
drawIsoCircles(A, isoHarmonicRadii);
drawLegend(A);

// ---- panel (b)
const B = makePanel(1);
drawLoops(B, duffUpperCenter, duffUpperLoops);
drawLoops(B, duffLowerCenter, duffLowerLoops);
drawTrain(B, trainDuffing);
drawInit(B, initDuffing);
drawClosed(B, isoDuffingOuter, COL.iso, 2);
drawClosed(B, isoDuffingInner, COL.iso, 2);
drawLegend(B);

// ---- panel (c)
const C = makePanel(2);
drawTrain(C, trainSelf);
selfCycles.forEach(l => drawClosed(C, l, COL.traj, 1.4));
selfTransients.forEach(l => drawPolyline(C, l, COL.traj, 1));
drawInit(C, initSelf);
drawIsoCircles(C, isoSelfRadii);
drawLegend(C);
</script>
</body></html>
